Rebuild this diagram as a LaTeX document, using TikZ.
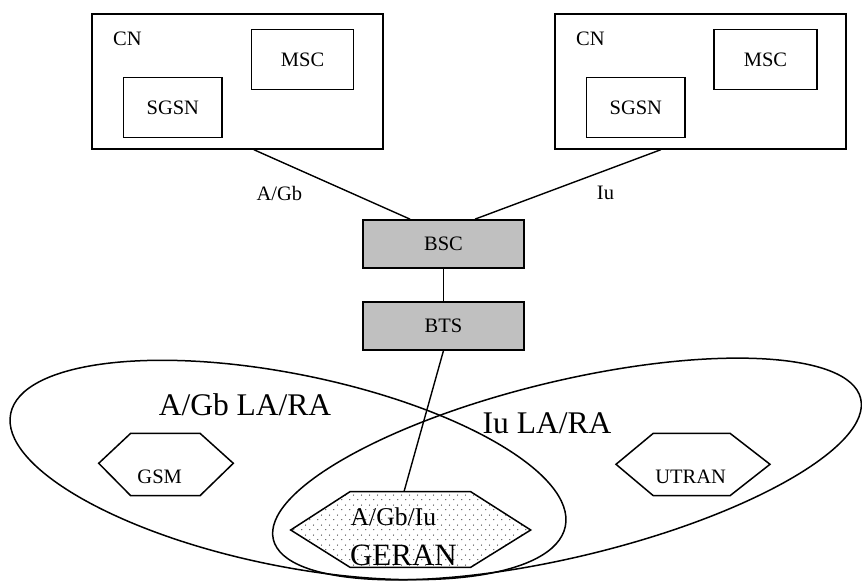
\documentclass[tikz,border=0pt]{standalone}
\usepackage{fontspec}
\setmainfont{Liberation Serif}
\usepackage{tikz}
\usetikzlibrary{patterns,positioning}
\definecolor{boxgray}{RGB}{192,192,192}
\pgfdeclarepatternformonly{gerandots}{\pgfpointorigin}{\pgfpoint{7.7pt}{10pt}}{\pgfpoint{7.7pt}{10pt}}{
    \pgfpathcircle{\pgfpoint{1.9pt}{2.5pt}}{0.6pt}
    \pgfpathcircle{\pgfpoint{5.75pt}{7.5pt}}{0.6pt}
    \pgfusepath{fill}}
\tikzstyle{wire} = [draw=black, line width=1.4pt]
\tikzstyle{cnbox} = [draw=black, line width=1.7pt, rectangle, inner sep=0pt,
    minimum width=291pt, minimum height=135pt, anchor=north west]
\tikzstyle{netbox} = [draw=black, line width=1.7pt, rectangle, inner sep=0pt,
    minimum height=60pt, anchor=north west, font=\fontsize{20.5}{24}\selectfont]
\tikzstyle{hubbox} = [draw=black, fill=boxgray, line width=1.7pt, rectangle, inner sep=0pt,
    minimum width=161.6pt, minimum height=48pt, font=\fontsize{20.5}{24}\selectfont]
\tikzstyle{smalltext} = [inner sep=0pt, font=\fontsize{20.5}{24}\selectfont]
\tikzstyle{bigtext} = [inner sep=0pt, font=\fontsize{31.5}{36}\selectfont]
\tikzstyle{hexa} = [draw=black, line width=1.5pt, fill=white]

\begin{document}
\begin{tikzpicture}[x=1pt, y=1pt]
    \useasboundingbox (0,0) rectangle (862,581);
    % location and routing areas
    \draw[wire, line width=1.5pt, rotate around={-11.5:(288,111)}] (288,111) ellipse (283 and 96);
    \draw[wire, line width=1.5pt, rotate around={13.5:(567,112)}] (567,112) ellipse (302 and 88);
    \node[bigtext] (areaA) at (245,176) {A/Gb LA/RA};
    \node[bigtext] (areaB) at (547,158) {Iu LA/RA};
    % radio access networks
    \draw[hexa] (98.7,117.7) -- (130.7,147.7) -- (200,147.7) -- (233.3,117.7) -- (200,85.3) -- (130.7,85.3) -- cycle;
    \node[smalltext] (gsm) at (159.7,104) {GSM};
    \draw[hexa] (616,116.7) -- (653.3,147.7) -- (730,147.7) -- (770,116.7) -- (730,85.3) -- (653.3,85.3) -- cycle;
    \node[smalltext] (utran) at (690.7,104) {UTRAN};
    \draw[hexa, postaction={pattern=gerandots}] (290.7,51) -- (350,89.3) -- (470.7,89.3) -- (530.7,51) -- (470.7,13.7) -- (350,13.7) -- cycle;
    \coordinate (gerantop) at (404,89.3);
    \node[inner sep=0pt, font=\fontsize{25.6}{30}\selectfont] (geraniface) at (393.4,64.5) {A/Gb/Iu};
    \node[bigtext, font=\fontsize{31}{36}\selectfont] (geran) at (403.4,25.3) {GERAN};
    % core networks
    \node[cnbox] (cnA) at (91,568) {};
    \node[smalltext, anchor=west] (cnAname) at ([shift={(22,-26)}]cnA.north west) {CN};
    \node[netbox, minimum width=98.6pt] (sgsnA) at ([shift={(31.7,-63.7)}]cnA.north west) {SGSN};
    \node[netbox, minimum width=102pt] (mscA) at ([shift={(159.7,-15.7)}]cnA.north west) {MSC};
    \node[cnbox] (cnB) at (554,568) {};
    \node[smalltext, anchor=west] (cnBname) at ([shift={(22,-26)}]cnB.north west) {CN};
    \node[netbox, minimum width=98.6pt] (sgsnB) at ([shift={(31.7,-63.7)}]cnB.north west) {SGSN};
    \node[netbox, minimum width=102.7pt] (mscB) at ([shift={(159.3,-15.7)}]cnB.north west) {MSC};
    % base station subsystem
    \node[hubbox] (bsc) at (443.5,337) {BSC};
    \node[hubbox, below=32pt of bsc] (bts) {BTS};
    \draw[wire] ([xshift=16.5pt]cnA.south) -- ([xshift=-33.5pt]bsc.north);
    \draw[wire] ([xshift=-39.5pt]cnB.south) -- ([xshift=31.5pt]bsc.north);
    \node[smalltext] (ifaceA) at (279.4,388) {A/Gb};
    \node[smalltext] (ifaceB) at (605.5,388) {Iu};
    \draw[wire] (bsc) -- (bts);
    \draw[wire] (bts.south) -- (gerantop);
\end{tikzpicture}
\end{document}
